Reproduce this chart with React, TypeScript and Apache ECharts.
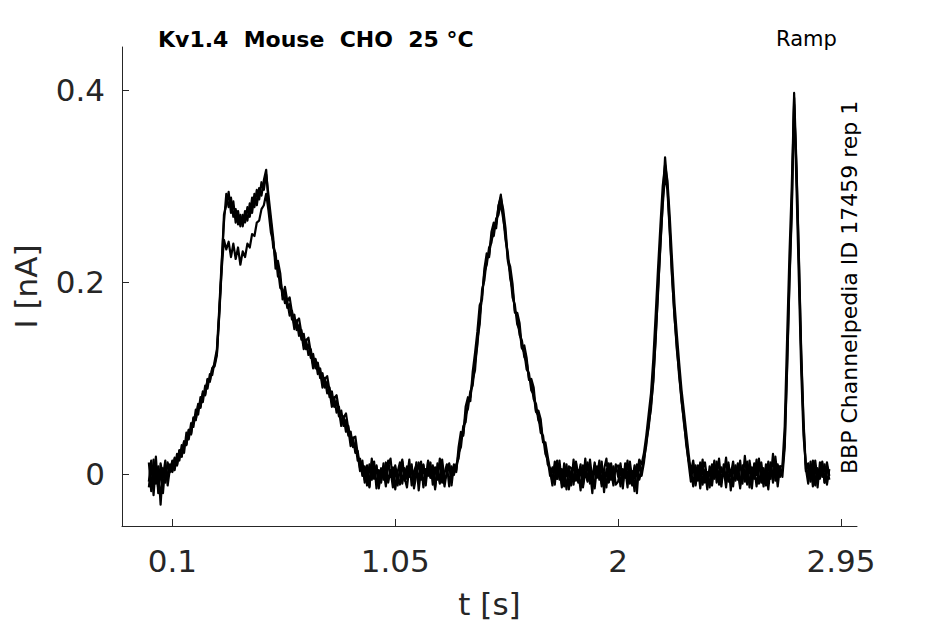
import React, { useEffect, useRef } from "react";
import * as echarts from "echarts";

const DT = 0.01;

// Current values in pA (three overlapping sweeps)
// t = 0.00 .. 0.99 s
const repA_part1 = [
  12, -18, 15, -10, 8, -32, 6, -9, 12, 2,
  14, 4, 21, 14, 30, 22, 43, 36, 53, 49,
  67, 62, 80, 75, 92, 89, 104, 103, 117, 130,
  172, 220, 262, 292, 278, 288, 268, 276, 260, 270,
  258, 274, 264, 282, 272, 292, 280, 298, 290, 306,
  317, 282, 262, 236, 230, 206, 203, 186, 189, 173,
  177, 161, 166, 150, 155, 140, 146, 130, 135, 121,
  125, 110, 116, 100, 105, 90, 96, 80, 86, 70,
  76, 60, 66, 50, 56, 40, 44, 28, 32, 14,
  16, -2, 8, -12, 10, -6, 13, -15, 4, -9,
];
// t = 1.00 .. 1.99 s
const repA_part2 = [
  11, -7, 14, -3, 7, -16, 2, 12, -10, 6,
  -5, 15, -12, 3, 9, -8, 13, -14, 5, -2,
  12, -11, 7, -6, 16, -9, 1, 10, -13, 8,
  -1, 10, 16, 36, 42, 62, 68, 86, 92, 116,
  134, 164, 186, 210, 218, 236, 241, 256, 260, 278,
  291, 270, 244, 230, 204, 192, 170, 164, 145, 139,
  122, 117, 100, 95, 78, 73, 56, 51, 35, 29,
  10, 6, -9, 13, -5, 8, -14, 11, -2, 6,
  -12, 15, -7, 4, -17, 9, -3, 12, -10, 2,
  -15, 8, -6, 13, -19, 5, -8, 11, -4, 7,
];
// t = 2.00 .. 2.90 s
const repA_part3 = [
  9, -13, 5, -4, 14, -10, 3, -18, 10, -6,
  4, 16, 30, 52, 68, 100, 140, 192, 236, 284,
  330, 300, 255, 206, 164, 134, 102, 79, 54, 35,
  12, -8, 11, -12, 6, -3, 15, -9, 2, -14,
  10, -5, 13, -11, 7, -2, 17, -8, 4, -13,
  9, -6, 14, -10, 19, -4, 8, -15, 11, -1,
  16, -9, 6, -12, 13, -5, 21, -7, 10, -3,
  4, 32, 112, 202, 278, 397, 322, 230, 130, 56,
  6, -10, 13, -6, 9, -14, 12, -3, 10, -11,
  5,
];

const repB_part1 = [
  -8, 14, -22, 10, -16, 4, -20, 9, -4, 10,
  2, 17, 9, 24, 18, 34, 30, 46, 42, 58,
  56, 72, 70, 84, 83, 98, 97, 110, 114, 126,
  165, 212, 244, 234, 242, 226, 240, 224, 236, 218,
  232, 226, 240, 236, 250, 248, 262, 264, 276, 280,
  292, 274, 252, 242, 222, 214, 194, 192, 178, 180,
  165, 170, 155, 160, 144, 150, 134, 140, 124, 130,
  114, 120, 104, 110, 94, 100, 84, 90, 74, 80,
  64, 70, 54, 60, 44, 50, 34, 38, 22, 24,
  6, 8, -6, 9, -14, 12, -4, 8, -13, 6,
];
const repB_part2 = [
  -6, 12, -9, 4, -14, 9, -4, -11, 13, -7,
  8, -3, 10, -15, -1, 12, -6, 9, -12, 14,
  -4, 6, -16, 11, -8, 5, -13, 3, 10, -5,
  6, 4, 22, 28, 50, 54, 76, 80, 98, 108,
  140, 156, 192, 202, 224, 228, 247, 248, 266, 270,
  282, 266, 250, 222, 210, 184, 176, 156, 150, 131,
  127, 109, 105, 87, 83, 65, 61, 43, 40, 21,
  15, -2, 7, -11, 14, -6, 5, -13, 10, -16,
  3, -5, 12, -9, 6, -12, 16, -7, 4, -20,
  9, -3, 14, -10, 2, -14, 11, -6, 8, -11,
];
const repB_part3 = [
  -8, 6, -15, 11, -3, 8, -12, 4, -20, 13,
  -2, 12, 34, 48, 72, 96, 144, 188, 240, 280,
  312, 296, 252, 204, 166, 130, 106, 76, 57, 31,
  14, 5, -13, 9, -7, 12, -11, 4, -16, 8,
  -4, 14, -9, 3, -13, 10, -6, 12, -17, 6,
  -2, 11, -12, 5, -8, 13, -14, 7, -5, 15,
  -10, 3, -13, 10, -6, 12, -9, 18, -4, 8,
  -3, 28, 108, 198, 272, 385, 318, 226, 126, 52,
  3, 11, -8, 14, -12, 6, -5, 13, -9, 8,
  -6,
];

const repC_part1 = [
  -14, 8, -6, 18, -20, 11, -3, 14, -12, 6,
  3, 16, 9, 25, 18, 34, 31, 46, 41, 59,
  57, 73, 69, 86, 82, 99, 96, 110, 112, 124,
  168, 214, 270, 280, 294, 272, 284, 262, 274, 258,
  270, 262, 278, 268, 288, 278, 296, 286, 304, 296,
  312, 290, 268, 246, 214, 222, 209, 182, 195, 180,
  184, 168, 151, 159, 162, 147, 130, 139, 142, 127,
  110, 119, 112, 107, 90, 99, 102, 87, 70, 79,
  82, 67, 50, 59, 63, 47, 29, 37, 39, 21,
  3, 14, -9, 6, -13, 16, -5, 9, -15, 5,
];
const repC_part2 = [
  4, -13, 9, 16, -8, 3, -12, 6, 15, -4,
  -14, 7, 2, -9, 12, -17, 5, 10, -7, 13,
  -3, 9, -14, 4, -10, 15, -6, -1, 11, -12,
  10, 2, 28, 44, 40, 70, 80, 76, 106, 126,
  148, 176, 182, 214, 230, 226, 252, 262, 256, 280,
  288, 276, 256, 224, 216, 198, 168, 168, 157, 131,
  134, 121, 98, 99, 90, 65, 66, 57, 33, 33,
  18, 4, -12, 9, -5, 14, -10, 3, -16, 8,
  6, -11, 13, -2, 10, -14, 2, -8, 15, -6,
  12, -4, 8, -13, 5, 16, -9, 3, -12, 10,
];
const repC_part3 = [
  -3, 11, -9, 7, -14, 13, -6, 9, -2, 15,
  10, 22, 40, 62, 84, 120, 166, 214, 258, 300,
  322, 306, 268, 222, 178, 146, 116, 88, 66, 44,
  22, 2, 14, -10, 9, -15, 6, 12, -7, 4,
  -12, 8, -3, 16, -9, 5, -14, 10, -1, 13,
  -7, 4, -15, 9, 2, -11, 14, -4, 7, -13,
  5, 12, -8, 3, -16, 9, -2, 11, -13, 8,
  8, 50, 140, 228, 300, 392, 300, 205, 110, 40,
  10, -4, 9, -13, 14, -7, 3, 11, -9, 12,
  -2,
];

const xTicks = [0.1, 1.05, 2, 2.95];
const yTicks = [0, 0.2, 0.4];
const xLimits = [-0.1145, 3.018];
const yLimits = [-0.0542, 0.4449];

const titleText = "Kv1.4  Mouse  CHO  25 °C";
const protocolText = "Ramp";
const sourceText = "BBP Channelpedia ID 17459 rep 1";
const xName = "t [s]";
const yName = "I [nA]";

function toPoints(parts: number[][]): number[][] {
  const vals = parts.flat();
  return vals.map((v, i) => [Math.round(i * DT * 1000) / 1000, v / 1000]);
}

const sweeps = [
  { name: "sweep A", parts: [repA_part1, repA_part2, repA_part3] },
  { name: "sweep B", parts: [repB_part1, repB_part2, repB_part3] },
  { name: "sweep C", parts: [repC_part1, repC_part2, repC_part3] },
];

const FONT = '"DejaVu Sans", "Liberation Sans", sans-serif';
const AXIS_COLOR = "#262626";

export default function App() {
  const ref = useRef<HTMLDivElement>(null);

  useEffect(() => {
    if (!ref.current) return;
    const chart = echarts.init(ref.current, null, { renderer: "svg" });
    const lineStyle = { color: AXIS_COLOR, width: 1 };
    const traceStyle = { color: "#000000", width: 2.2, join: "round" };
    const option: any = {
      animation: false,
      backgroundColor: "#ffffff",
      grid: {
        left: 122,
        top: 47,
        right: 88,
        bottom: 98,
        containLabel: false,
        outerBoundsMode: "none",
      },
      xAxis: {
        type: "value",
        min: xLimits[0],
        max: xLimits[1],
        axisLine: { show: true, onZero: false, lineStyle },
        axisTick: { show: true, inside: true, length: 7, customValues: xTicks, lineStyle },
        axisLabel: {
          customValues: xTicks,
          fontSize: 31,
          fontFamily: FONT,
          color: AXIS_COLOR,
          margin: 19,
        },
        splitLine: { show: false },
        name: xName,
        nameLocation: "middle",
        nameGap: 62,
        nameMoveOverlap: false,
        nameTextStyle: { fontSize: 31, fontFamily: FONT, color: AXIS_COLOR },
      },
      yAxis: {
        type: "value",
        min: yLimits[0],
        max: yLimits[1],
        axisLine: { show: true, onZero: false, lineStyle },
        axisTick: { show: true, inside: true, length: 7, customValues: yTicks, lineStyle },
        axisLabel: {
          customValues: yTicks,
          fontSize: 31,
          fontFamily: FONT,
          color: AXIS_COLOR,
          margin: 17,
        },
        splitLine: { show: false },
        name: yName,
        nameLocation: "middle",
        nameGap: 81,
        nameMoveOverlap: false,
        nameTextStyle: { fontSize: 31, fontFamily: FONT, color: AXIS_COLOR },
      },
      series: sweeps.map((s) => ({
        type: "line",
        name: s.name,
        data: toPoints(s.parts),
        showSymbol: false,
        symbol: "none",
        silent: true,
        lineStyle: traceStyle,
        emphasis: { disabled: true },
      })),
      graphic: [
        {
          type: "text",
          x: 158,
          y: 39,
          silent: true,
          style: {
            text: titleText,
            font: `bold 22px ${FONT}`,
            fill: "#000000",
            align: "left",
            verticalAlign: "middle",
            textAlign: "left",
            textVerticalAlign: "middle",
          },
        },
        {
          type: "text",
          x: 806.5,
          y: 39,
          silent: true,
          style: {
            text: protocolText,
            font: `21px ${FONT}`,
            fill: "#000000",
            align: "center",
            verticalAlign: "middle",
            textAlign: "center",
            textVerticalAlign: "middle",
          },
        },
        {
          type: "text",
          x: 849.5,
          y: 474,
          rotation: Math.PI / 2,
          silent: true,
          style: {
            text: sourceText,
            font: `22px ${FONT}`,
            fill: "#000000",
            align: "left",
            verticalAlign: "middle",
            textAlign: "left",
            textVerticalAlign: "middle",
          },
        },
      ],
    };
    chart.setOption(option);
    return () => chart.dispose();
  }, []);

  return (
    <div
      ref={ref}
      style={{ position: "fixed", left: 0, top: 0, width: 945, height: 624, background: "#fff" }}
    />
  );
}
